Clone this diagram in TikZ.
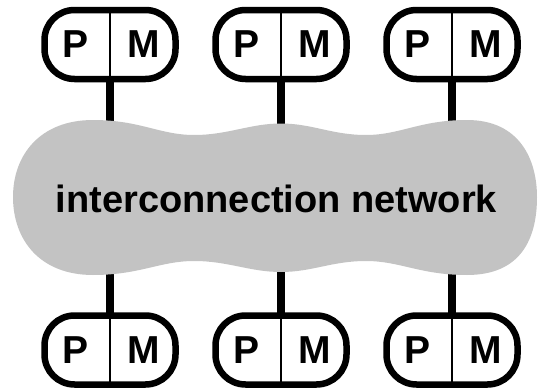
\documentclass[tikz,border=0pt]{standalone}
\usepackage{fontspec}
\setmainfont{Liberation Sans}
\usetikzlibrary{positioning, backgrounds}
\definecolor{netgray}{RGB}{195,195,195}
\tikzset{%
	pm/.style={draw, rectangle, rounded corners=30pt, line width=6.5pt,%
		minimum width=131pt, minimum height=69pt, outer sep=0pt, inner sep=0pt},
	letter/.style={inner sep=0pt, font=\fontsize{39}{44}\selectfont\bfseries},
	divider/.style={line width=2pt},
	link/.style={line width=8pt},
	netlabel/.style={inner sep=0pt, anchor=base, font=\fontsize{38}{44}\selectfont\bfseries}
}

\begin{document}
\begin{tikzpicture}[x=1pt, y=-1pt]
	\useasboundingbox (0,0) rectangle (539,388);
	\node[netlabel] (net) at (276.5,212.5) {interconnection network};

	\node[pm] (pm1) at (110,44.5) {};
	\node[pm, right=40pt of pm1] (pm2) {};
	\node[pm, right=40pt of pm2] (pm3) {};
	\node[pm] (pm4) at (110,350) {};
	\node[pm, right=40pt of pm4] (pm5) {};
	\node[pm, right=40pt of pm5] (pm6) {};

	\node[letter] (p1) at ([xshift=-34pt]pm1.center) {P};
	\node[letter] (m1) at ([xshift=34pt]pm1.center) {M};
	\node[letter] (p2) at ([xshift=-34pt]pm2.center) {P};
	\node[letter] (m2) at ([xshift=34pt]pm2.center) {M};
	\node[letter] (p3) at ([xshift=-34pt]pm3.center) {P};
	\node[letter] (m3) at ([xshift=34pt]pm3.center) {M};
	\node[letter] (p4) at ([xshift=-34pt]pm4.center) {P};
	\node[letter] (m4) at ([xshift=34pt]pm4.center) {M};
	\node[letter] (p5) at ([xshift=-34pt]pm5.center) {P};
	\node[letter] (m5) at ([xshift=34pt]pm5.center) {M};
	\node[letter] (p6) at ([xshift=-34pt]pm6.center) {P};
	\node[letter] (m6) at ([xshift=34pt]pm6.center) {M};

	\draw[divider] (pm1.north) to (pm1.south);
	\draw[divider] (pm2.north) to (pm2.south);
	\draw[divider] (pm3.north) to (pm3.south);
	\draw[divider] (pm4.north) to (pm4.south);
	\draw[divider] (pm5.north) to (pm5.south);
	\draw[divider] (pm6.north) to (pm6.south);

	\begin{scope}[on background layer]
		\draw[link] (pm1.south) to (pm1.south |- net);
		\draw[link] (pm2.south) to (pm2.south |- net);
		\draw[link] (pm3.south) to (pm3.south |- net);
		\draw[link] (pm4.north) to (pm4.north |- net);
		\draw[link] (pm5.north) to (pm5.north |- net);
		\draw[link] (pm6.north) to (pm6.north |- net);
		% the cloud
		\fill[netgray] (93,120) .. controls (140,120) and (160,135) .. (194,135)
			.. controls (228,135) and (250,123.5) .. (281,123.5)
			.. controls (312,123.5) and (332,135) .. (366,135)
			.. controls (400,135) and (420,120) .. (467,120)
			.. controls (520,120) and (537,160) .. (537,197)
			.. controls (537,240) and (520,275) .. (467,275)
			.. controls (420,275) and (400,261) .. (366,261)
			.. controls (332,261) and (312,272) .. (281,272)
			.. controls (250,272) and (228,261) .. (194,261)
			.. controls (160,261) and (140,275) .. (93,275)
			.. controls (40,275) and (13,240) .. (13,197)
			.. controls (13,155) and (40,120) .. (93,120) -- cycle;
	\end{scope}
\end{tikzpicture}
\end{document}
